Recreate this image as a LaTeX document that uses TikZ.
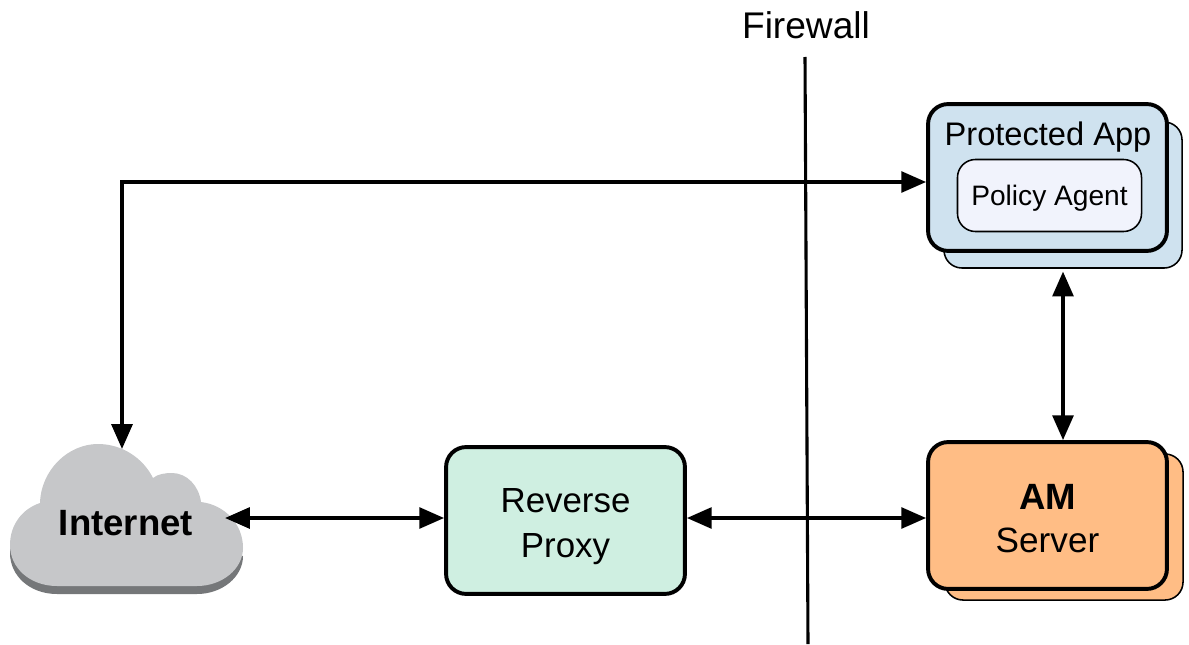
\documentclass[tikz,border=0pt]{standalone}
\usepackage{fontspec}
\setmainfont{Liberation Sans}
\usetikzlibrary{arrows.meta}
\definecolor{AppBlue}{HTML}{CFE2EF}
\definecolor{AgentBlue}{HTML}{F1F3FC}
\definecolor{ProxyGreen}{HTML}{CFEFE1}
\definecolor{ServerOrange}{HTML}{FFBD85}
\definecolor{CloudGrey}{HTML}{C6C7C9}
\definecolor{CloudDark}{HTML}{757779}
\begin{document}
\begin{tikzpicture}
[
x=0.025cm,
y=-0.025cm,
Front/.style={rectangle,draw=black,line width=2.8pt,rounded corners=0.5cm,minimum width=5.97cm,minimum height=3.67cm,inner sep=0pt,align=center},
Back/.style={rectangle,draw=black,line width=1.1pt,rounded corners=0.45cm,minimum width=5.95cm,minimum height=3.65cm,inner sep=0pt},
Link/.style={{Triangle[length=6.2mm,width=5.2mm]}-{Triangle[length=6.2mm,width=5.2mm]},line width=2.5pt,draw=black},
OneWay/.style={-{Triangle[length=6.2mm,width=5.2mm]},line width=2.5pt,draw=black,line cap=rect},
FirewallLine/.style={line width=2.2pt,draw=black},
]

\useasboundingbox (0,0) rectangle (1189,644);

% cloud with its darker lower edge
\path[fill=CloudDark] (10,553) .. controls (10,533) and (22,517) .. (40,511) -- (243,556)
  .. controls (243,577) and (222,594) .. (197,594) -- (57,594) .. controls (30,594) and (10,576) .. (10,553) -- cycle;
\path[fill=CloudGrey] (10,545) .. controls (10,525) and (22,509) .. (40,503)
  .. controls (41,470) and (68,444) .. (98,444)
  .. controls (122,444) and (143,458) .. (153,478)
  .. controls (158,474) and (165,473) .. (172,473)
  .. controls (187,473) and (199,486) .. (201,502)
  .. controls (225,505) and (243,524) .. (243,548)
  .. controls (243,569) and (222,586) .. (197,586)
  -- (57,586) .. controls (30,586) and (10,568) .. (10,545) -- cycle;

\node[minimum width=4.95cm,minimum height=3.7cm,inner sep=0pt,outer sep=0pt,font=\fontsize{26}{30}\selectfont\bfseries] (internet) at (126,523) {Internet};

\node[Back,fill=AppBlue] (appback) at (1063,195) {};
\node[Front,fill=AppBlue] (app) at (1047.5,177.5) {};
\node[font=\fontsize{23.2}{28}\selectfont] (apptitle) at (1048,137) {Protected App};
\node[rectangle,draw=black,line width=1.1pt,fill=AgentBlue,rounded corners=0.45cm,minimum width=4.6cm,minimum height=1.8cm,inner sep=0pt,text depth=0pt,font=\fontsize{20}{24}\selectfont] (agent) at (1049.5,195.5) {Policy Agent};

\node[Back,fill=ServerOrange] (serverback) at (1064,527) {};
\node[Front,fill=ServerOrange,font=\fontsize{25}{30.6}\selectfont] (server) at (1047.5,515.5) {\rule{0pt}{22pt}{\fontsize{26}{30.6}\selectfont\bfseries AM}\\Server};

\node[Front,fill=ProxyGreen,text depth=0pt,font=\fontsize{24.8}{32}\selectfont] (proxy) at (565.5,520.5) {\rule{0pt}{20pt}Reverse\\Proxy};

\node[font=\fontsize{26.4}{30}\selectfont] (firewall) at (806,25) {Firewall};
\coordinate (wallTop) at (805,57);
\coordinate (wallBottom) at (808,644);
\coordinate (corner) at (122,182);
\coordinate (lowRow) at (0,518);
\coordinate (midColumn) at (1063,0);

\draw[FirewallLine] (wallTop)--(wallBottom);

\draw[OneWay] (corner)--(corner-|app.west);
\draw[OneWay] (corner)--(corner|-internet.north);
\draw[Link] (internet.east|-lowRow)--(proxy.west|-lowRow);
\draw[Link] (proxy.east|-lowRow)--(server.west|-lowRow);
\draw[Link,shorten <=2pt] (midColumn|-appback.south)--(midColumn|-server.north);

\end{tikzpicture}
\end{document}
